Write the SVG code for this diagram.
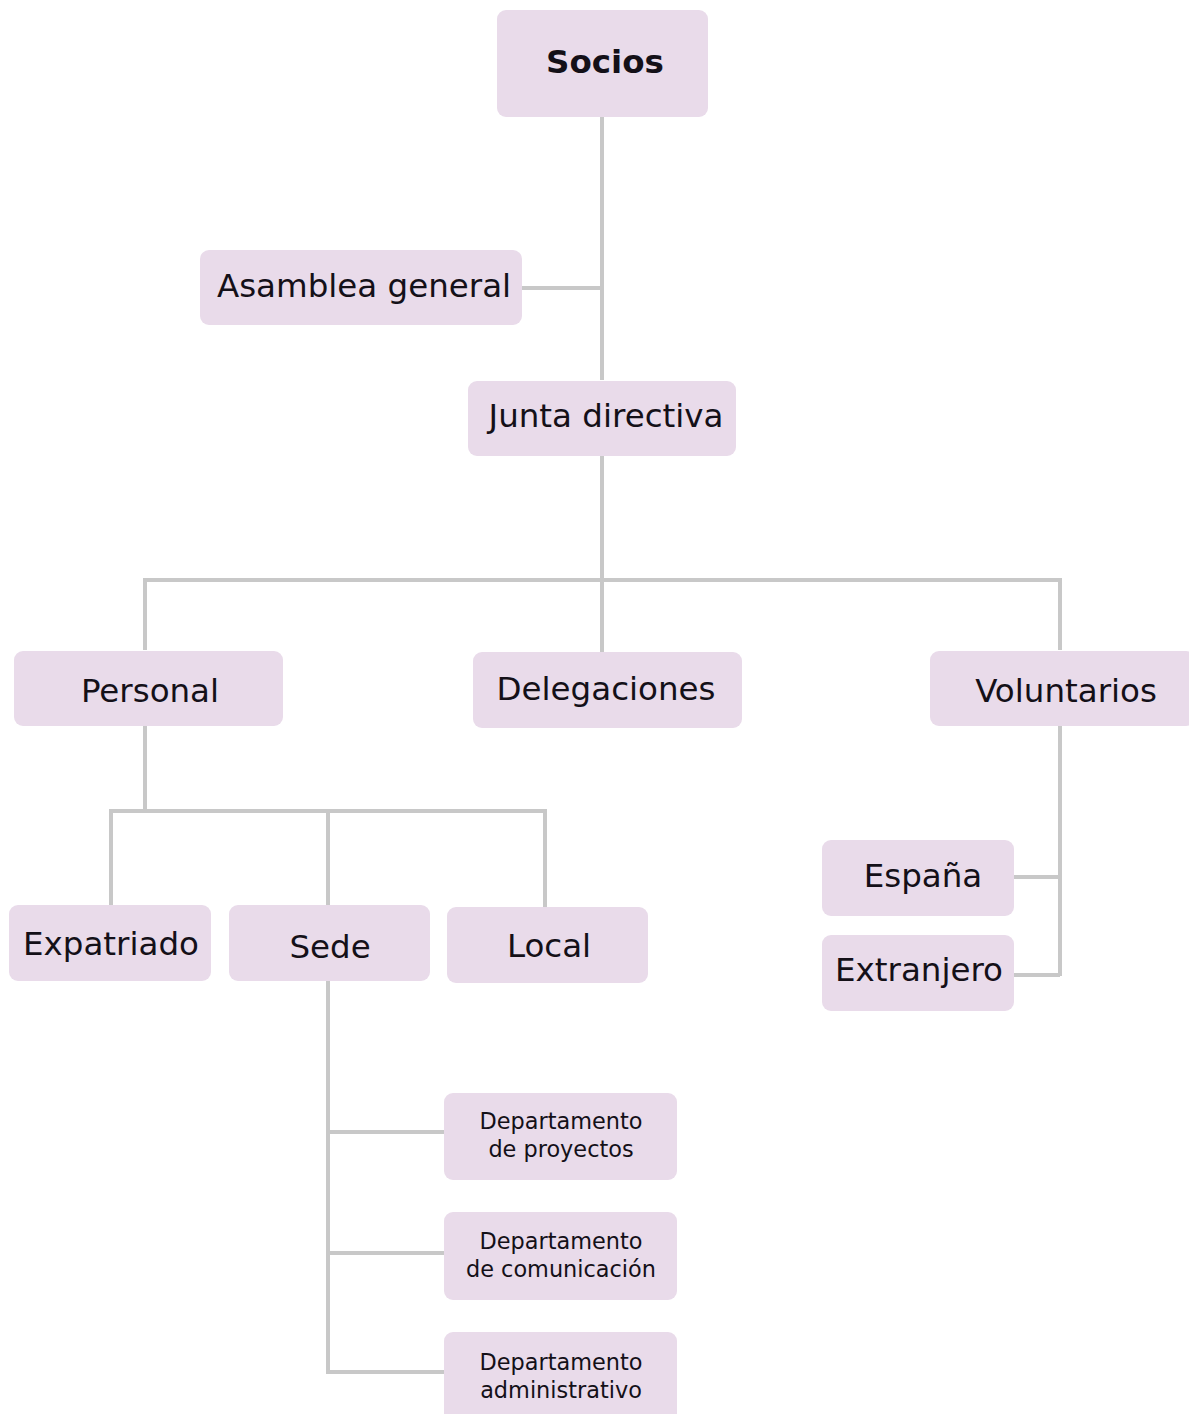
<svg xmlns="http://www.w3.org/2000/svg" width="1189" height="1414" viewBox="0 0 1189 1414">
<style>
.box{fill:#e9dbea;}
.t{font-family:"DejaVu Sans",Verdana,sans-serif;font-size:32.5px;fill:#141018;text-anchor:middle;}
.s{font-family:"DejaVu Sans",Verdana,sans-serif;font-size:22.4px;fill:#141018;text-anchor:middle;}
.c{fill:none;stroke:#c8c8c8;stroke-width:4;}
</style>
<rect width="1189" height="1414" fill="#ffffff"/>
<g id="connectors">
<path class="c" d="M602 117V380"/>
<path class="c" d="M522 288H602"/>
<path class="c" d="M602 456V652"/>
<path class="c" d="M145 650V580H1060V650"/>
<path class="c" d="M145 726V811"/>
<path class="c" d="M111 905V811H545V907"/>
<path class="c" d="M328 811V905"/>
<path class="c" d="M1060 726V976"/>
<path class="c" d="M1014 877H1060"/>
<path class="c" d="M1014 975H1060"/>
<path class="c" d="M328 981V1372H444"/>
<path class="c" d="M328 1132H444"/>
<path class="c" d="M328 1253H444"/>
</g>
<g id="socios"><rect class="box" x="497" y="10" width="211" height="107" rx="9"/><text class="t" x="605" y="73" font-weight="bold" font-size="32px">Socios</text></g>
<g id="asamblea"><rect class="box" x="200" y="250" width="322" height="75" rx="9"/><text class="t" x="364" y="297">Asamblea general</text></g>
<g id="junta"><rect class="box" x="468" y="381" width="268" height="75" rx="9"/><text class="t" x="606" y="427">Junta directiva</text></g>
<g id="personal"><rect class="box" x="14" y="651" width="269" height="75" rx="9"/><text class="t" x="150" y="702">Personal</text></g>
<g id="delegaciones"><rect class="box" x="473" y="652" width="269" height="76" rx="9"/><text class="t" x="606" y="700">Delegaciones</text></g>
<g id="voluntarios"><rect class="box" x="930" y="651" width="265" height="75" rx="9"/><text class="t" x="1066" y="702">Voluntarios</text></g>
<g id="expatriado"><rect class="box" x="9" y="905" width="202" height="76" rx="9"/><text class="t" x="111" y="955">Expatriado</text></g>
<g id="sede"><rect class="box" x="229" y="905" width="201" height="76" rx="9"/><text class="t" x="330" y="958">Sede</text></g>
<g id="local"><rect class="box" x="447" y="907" width="201" height="76" rx="9"/><text class="t" x="549" y="957">Local</text></g>
<g id="espana"><rect class="box" x="822" y="840" width="192" height="76" rx="9"/><text class="t" x="923" y="887">España</text></g>
<g id="extranjero"><rect class="box" x="822" y="935" width="192" height="76" rx="9"/><text class="t" x="919" y="981">Extranjero</text></g>
<g id="dep-proyectos"><rect class="box" x="444" y="1093" width="233" height="87" rx="9"/><text class="s" x="561" y="1129">Departamento</text><text class="s" x="561" y="1157">de proyectos</text></g>
<g id="dep-comunicacion"><rect class="box" x="444" y="1212" width="233" height="88" rx="9"/><text class="s" x="561" y="1249">Departamento</text><text class="s" x="561" y="1277">de comunicación</text></g>
<g id="dep-administrativo"><rect class="box" x="444" y="1332" width="233" height="95" rx="9"/><text class="s" x="561" y="1370">Departamento</text><text class="s" x="561" y="1398">administrativo</text></g>
</svg>
